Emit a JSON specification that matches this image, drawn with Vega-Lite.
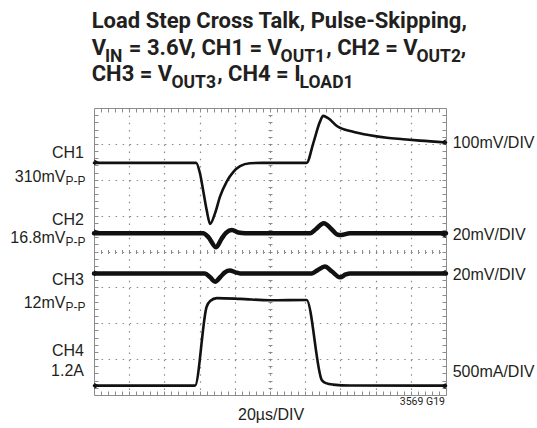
{
  "$schema": "https://vega.github.io/schema/vega-lite/v6.json",
  "width": 352,
  "height": 287,
  "autosize": {"type": "none"},
  "padding": {"left": 94, "top": 108, "right": 91, "bottom": 33},
  "background": "white",
  "datasets": {
    "traces": [
      {"ch": "CH1", "t": 0, "v": 6.47}, {"ch": "CH1", "t": 2.9, "v": 6.47}, {"ch": "CH1", "t": 3.01, "v": 6.18}, {"ch": "CH1", "t": 3.1, "v": 5.71}, {"ch": "CH1", "t": 3.2, "v": 5.16}, {"ch": "CH1", "t": 3.3, "v": 4.77}, {"ch": "CH1", "t": 3.44, "v": 5.07}, {"ch": "CH1", "t": 3.58, "v": 5.53}, {"ch": "CH1", "t": 3.77, "v": 5.95}, {"ch": "CH1", "t": 3.96, "v": 6.22}, {"ch": "CH1", "t": 4.15, "v": 6.38}, {"ch": "CH1", "t": 4.43, "v": 6.46}, {"ch": "CH1", "t": 4.8, "v": 6.47}, {"ch": "CH1", "t": 6.04, "v": 6.47}, {"ch": "CH1", "t": 6.23, "v": 7.02}, {"ch": "CH1", "t": 6.42, "v": 7.62}, {"ch": "CH1", "t": 6.51, "v": 7.78}, {"ch": "CH1", "t": 6.66, "v": 7.71}, {"ch": "CH1", "t": 6.9, "v": 7.5}, {"ch": "CH1", "t": 7.36, "v": 7.34}, {"ch": "CH1", "t": 7.84, "v": 7.24}, {"ch": "CH1", "t": 8.32, "v": 7.17}, {"ch": "CH1", "t": 8.78, "v": 7.13}, {"ch": "CH1", "t": 9.26, "v": 7.09}, {"ch": "CH1", "t": 10, "v": 7.04},
      {"ch": "CH2", "t": 0, "v": 4.51}, {"ch": "CH2", "t": 3.1, "v": 4.51}, {"ch": "CH2", "t": 3.25, "v": 4.4}, {"ch": "CH2", "t": 3.47, "v": 4.12}, {"ch": "CH2", "t": 3.62, "v": 4.35}, {"ch": "CH2", "t": 3.75, "v": 4.52}, {"ch": "CH2", "t": 3.92, "v": 4.6}, {"ch": "CH2", "t": 4.1, "v": 4.53}, {"ch": "CH2", "t": 4.3, "v": 4.51}, {"ch": "CH2", "t": 6.14, "v": 4.51}, {"ch": "CH2", "t": 6.3, "v": 4.62}, {"ch": "CH2", "t": 6.53, "v": 4.79}, {"ch": "CH2", "t": 6.75, "v": 4.62}, {"ch": "CH2", "t": 6.9, "v": 4.48}, {"ch": "CH2", "t": 7.02, "v": 4.46}, {"ch": "CH2", "t": 7.27, "v": 4.51}, {"ch": "CH2", "t": 10, "v": 4.51},
      {"ch": "CH3", "t": 0, "v": 3.39}, {"ch": "CH3", "t": 3.15, "v": 3.39}, {"ch": "CH3", "t": 3.3, "v": 3.28}, {"ch": "CH3", "t": 3.44, "v": 3.16}, {"ch": "CH3", "t": 3.6, "v": 3.3}, {"ch": "CH3", "t": 3.72, "v": 3.42}, {"ch": "CH3", "t": 3.86, "v": 3.47}, {"ch": "CH3", "t": 4.02, "v": 3.42}, {"ch": "CH3", "t": 4.15, "v": 3.39}, {"ch": "CH3", "t": 6.19, "v": 3.39}, {"ch": "CH3", "t": 6.35, "v": 3.48}, {"ch": "CH3", "t": 6.56, "v": 3.58}, {"ch": "CH3", "t": 6.75, "v": 3.45}, {"ch": "CH3", "t": 6.99, "v": 3.28}, {"ch": "CH3", "t": 7.15, "v": 3.36}, {"ch": "CH3", "t": 7.27, "v": 3.39}, {"ch": "CH3", "t": 10, "v": 3.39},
      {"ch": "CH4", "t": 0, "v": 0.26}, {"ch": "CH4", "t": 2.87, "v": 0.26}, {"ch": "CH4", "t": 3.2, "v": 2.46}, {"ch": "CH4", "t": 3.3, "v": 2.62}, {"ch": "CH4", "t": 3.49, "v": 2.7}, {"ch": "CH4", "t": 4.15, "v": 2.68}, {"ch": "CH4", "t": 5.0, "v": 2.64}, {"ch": "CH4", "t": 6.04, "v": 2.65}, {"ch": "CH4", "t": 6.47, "v": 0.42}, {"ch": "CH4", "t": 6.59, "v": 0.33}, {"ch": "CH4", "t": 6.79, "v": 0.29}, {"ch": "CH4", "t": 7.27, "v": 0.265}, {"ch": "CH4", "t": 10, "v": 0.26}
    ]
  },
  "resolve": {"axis": {"x": "independent", "y": "independent"}},
  "layer": [
    {
      "data": {"name": "traces"},
      "transform": [{"filter": {"field": "ch", "oneOf": ["CH1", "CH4"]}}],
      "mark": {"type": "line", "interpolate": "monotone", "strokeWidth": 2.6, "color": "#111111", "strokeCap": "round", "strokeJoin": "round"},
      "encoding": {
        "x": {"field": "t", "type": "quantitative", "scale": {"domain": [0, 10], "nice": false, "zero": false},
              "axis": {"orient": "bottom", "values": [1,2,3,4,5,6,7,8,9], "grid": true, "gridDash": [1.5, 5.68], "gridColor": "#8a8a8a", "gridWidth": 1.2, "ticks": false, "labels": false, "domain": false, "title": null}},
        "y": {"field": "v", "type": "quantitative", "scale": {"domain": [0, 8], "nice": false, "zero": false},
              "axis": {"orient": "left", "values": [1,2,3,4,5,6,7], "grid": true, "gridDash": [1.5, 5.54], "gridColor": "#8a8a8a", "gridWidth": 1.2, "ticks": false, "labels": false, "domain": false, "title": null}},
        "detail": {"field": "ch"}
      }
    },
    {
      "data": {"name": "traces"},
      "transform": [{"filter": {"field": "ch", "oneOf": ["CH2", "CH3"]}}],
      "mark": {"type": "line", "interpolate": "monotone", "strokeWidth": 4.5, "color": "#111111", "strokeCap": "round", "strokeJoin": "round"},
      "encoding": {
        "x": {"field": "t", "type": "quantitative", "axis": null},
        "y": {"field": "v", "type": "quantitative", "axis": null},
        "detail": {"field": "ch"}
      }
    },
    {
      "data": {"values": [{"ch": "CH1", "lvl": 6.485}, {"ch": "CH2", "lvl": 4.535}, {"ch": "CH3", "lvl": 3.392}, {"ch": "CH4", "lvl": 0.259}]},
      "mark": {"type": "point", "shape": "triangle-right", "filled": true, "size": 35, "color": "#111111", "opacity": 1},
      "encoding": {
        "x": {"datum": 0.08, "axis": {"orient": "bottom", "values": [0.2,0.4,0.6,0.8,1,1.2,1.4,1.6,1.8,2,2.2,2.4,2.6,2.8,3,3.2,3.4,3.6,3.8,4,4.2,4.4,4.6,4.8,5,5.2,5.4,5.6,5.8,6,6.2,6.4,6.6,6.8,7,7.2,7.4,7.6,7.8,8,8.2,8.4,8.6,8.8,9,9.2,9.4,9.6,9.8], "offset": -4, "tickSize": 4, "tickColor": "#8c8c8c", "labels": false, "domain": false, "grid": false, "title": null}},
        "y": {"field": "lvl", "type": "quantitative", "axis": {"orient": "left", "values": [0.2,0.4,0.6,0.8,1,1.2,1.4,1.6,1.8,2,2.2,2.4,2.6,2.8,3,3.2,3.4,3.6,3.8,4,4.2,4.4,4.6,4.8,5,5.2,5.4,5.6,5.8,6,6.2,6.4,6.6,6.8,7,7.2,7.4,7.6,7.8], "offset": -4, "tickSize": 4, "tickColor": "#8c8c8c", "labels": false, "domain": false, "grid": false, "title": null}}
      }
    },
    {
      "data": {"values": [{"ch": "CH1", "lvl": 7.044}, {"ch": "CH2", "lvl": 4.46}, {"ch": "CH3", "lvl": 3.408}, {"ch": "CH4", "lvl": 0.251}]},
      "mark": {"type": "point", "shape": "triangle-left", "filled": true, "size": 35, "color": "#111111", "opacity": 1},
      "encoding": {
        "x": {"datum": 9.92, "axis": {"orient": "top", "values": [0.2,0.4,0.6,0.8,1,1.2,1.4,1.6,1.8,2,2.2,2.4,2.6,2.8,3,3.2,3.4,3.6,3.8,4,4.2,4.4,4.6,4.8,5,5.2,5.4,5.6,5.8,6,6.2,6.4,6.6,6.8,7,7.2,7.4,7.6,7.8,8,8.2,8.4,8.6,8.8,9,9.2,9.4,9.6,9.8], "offset": -4, "tickSize": 4, "tickColor": "#8c8c8c", "labels": false, "domain": false, "grid": false, "title": null}},
        "y": {"field": "lvl", "type": "quantitative", "axis": {"orient": "right", "values": [0.2,0.4,0.6,0.8,1,1.2,1.4,1.6,1.8,2,2.2,2.4,2.6,2.8,3,3.2,3.4,3.6,3.8,4,4.2,4.4,4.6,4.8,5,5.2,5.4,5.6,5.8,6,6.2,6.4,6.6,6.8,7,7.2,7.4,7.6,7.8], "offset": -4, "tickSize": 4, "tickColor": "#8c8c8c", "labels": false, "domain": false, "grid": false, "title": null}}
      }
    },
    {
      "data": {"values": [{}]},
      "mark": {"type": "text", "style": "bot", "align": "center"},
      "encoding": {
        "x": {"datum": 5.03, "axis": {"orient": "bottom", "values": [0.2,0.4,0.6,0.8,1,1.2,1.4,1.6,1.8,2,2.2,2.4,2.6,2.8,3,3.2,3.4,3.6,3.8,4,4.2,4.4,4.6,4.8,5,5.2,5.4,5.6,5.8,6,6.2,6.4,6.6,6.8,7,7.2,7.4,7.6,7.8,8,8.2,8.4,8.6,8.8,9,9.2,9.4,9.6,9.8], "offset": -145.5, "tickSize": 4, "tickColor": "#8c8c8c", "labels": false, "domain": false, "grid": false, "title": null}},
        "y": {"datum": -0.683, "axis": {"orient": "left", "values": [0.2,0.4,0.6,0.8,1,1.2,1.4,1.6,1.8,2,2.2,2.4,2.6,2.8,3,3.2,3.4,3.6,3.8,4,4.2,4.4,4.6,4.8,5,5.2,5.4,5.6,5.8,6,6.2,6.4,6.6,6.8,7,7.2,7.4,7.6,7.8], "offset": -178, "tickSize": 4, "tickColor": "#8c8c8c", "labels": false, "domain": false, "grid": false, "title": null}},
        "text": {"value": "20µs/DIV"}
      }
    },
    {"data": {"values": [{}]}, "mark": {"type": "text", "style": "code", "align": "right"}, "encoding": {"x": {"datum": 9.97, "axis": null}, "y": {"datum": -0.279, "axis": null}, "text": {"value": "3569 G19"}}},

    {"data": {"values": [{}]}, "mark": {"type": "text", "style": "tt", "align": "left"}, "encoding": {"x": {"datum": -0.065, "axis": null}, "y": {"datum": 10.22, "axis": null}, "text": {"value": "Load Step Cross Talk, Pulse-Skipping,"}}},
    {"data": {"values": [{}]}, "mark": {"type": "text", "style": "tt", "align": "left"}, "encoding": {"x": {"datum": -0.065, "axis": null}, "y": {"datum": 9.477, "axis": null}, "text": {"value": "V"}}},
    {"data": {"values": [{}]}, "mark": {"type": "text", "style": "ts", "align": "left"}, "encoding": {"x": {"datum": 0.31, "axis": null}, "y": {"datum": 9.29, "axis": null}, "text": {"value": "IN"}}},
    {"data": {"values": [{}]}, "mark": {"type": "text", "style": "tt", "align": "left"}, "encoding": {"x": {"datum": 0.99, "axis": null}, "y": {"datum": 9.477, "axis": null}, "text": {"value": "= 3.6V, CH1 = V"}}},
    {"data": {"values": [{}]}, "mark": {"type": "text", "style": "ts", "align": "left"}, "encoding": {"x": {"datum": 5.3, "axis": null}, "y": {"datum": 9.29, "axis": null}, "text": {"value": "OUT1"}}},
    {"data": {"values": [{}]}, "mark": {"type": "text", "style": "tt", "align": "left"}, "encoding": {"x": {"datum": 6.6, "axis": null}, "y": {"datum": 9.477, "axis": null}, "text": {"value": ", CH2 = V"}}},
    {"data": {"values": [{}]}, "mark": {"type": "text", "style": "ts", "align": "left"}, "encoding": {"x": {"datum": 9.16, "axis": null}, "y": {"datum": 9.29, "axis": null}, "text": {"value": "OUT2"}}},
    {"data": {"values": [{}]}, "mark": {"type": "text", "style": "tt", "align": "left"}, "encoding": {"x": {"datum": 10.42, "axis": null}, "y": {"datum": 9.477, "axis": null}, "text": {"value": ","}}},
    {"data": {"values": [{}]}, "mark": {"type": "text", "style": "tt", "align": "left"}, "encoding": {"x": {"datum": -0.065, "axis": null}, "y": {"datum": 8.753, "axis": null}, "text": {"value": "CH3 = V"}}},
    {"data": {"values": [{}]}, "mark": {"type": "text", "style": "ts", "align": "left"}, "encoding": {"x": {"datum": 2.2, "axis": null}, "y": {"datum": 8.566, "axis": null}, "text": {"value": "OUT3"}}},
    {"data": {"values": [{}]}, "mark": {"type": "text", "style": "tt", "align": "left"}, "encoding": {"x": {"datum": 3.5, "axis": null}, "y": {"datum": 8.753, "axis": null}, "text": {"value": ", CH4 = I"}}},
    {"data": {"values": [{}]}, "mark": {"type": "text", "style": "ts", "align": "left"}, "encoding": {"x": {"datum": 5.84, "axis": null}, "y": {"datum": 8.566, "axis": null}, "text": {"value": "LOAD1"}}},

    {"data": {"values": [{}]}, "mark": {"type": "text", "style": "lb", "align": "right"}, "encoding": {"x": {"datum": -0.284, "axis": null}, "y": {"datum": 6.598, "axis": null}, "text": {"value": "CH1"}}},
    {"data": {"values": [{}]}, "mark": {"type": "text", "style": "lb", "align": "right"}, "encoding": {"x": {"datum": -0.81, "axis": null}, "y": {"datum": 5.946, "axis": null}, "text": {"value": "310mV"}}},
    {"data": {"values": [{}]}, "mark": {"type": "text", "style": "sb", "align": "left"}, "encoding": {"x": {"datum": -0.81, "axis": null}, "y": {"datum": 5.862, "axis": null}, "text": {"value": "P-P"}}},
    {"data": {"values": [{}]}, "mark": {"type": "text", "style": "lb", "align": "right"}, "encoding": {"x": {"datum": -0.284, "axis": null}, "y": {"datum": 4.739, "axis": null}, "text": {"value": "CH2"}}},
    {"data": {"values": [{}]}, "mark": {"type": "text", "style": "lb", "align": "right"}, "encoding": {"x": {"datum": -0.81, "axis": null}, "y": {"datum": 4.237, "axis": null}, "text": {"value": "16.8mV"}}},
    {"data": {"values": [{}]}, "mark": {"type": "text", "style": "sb", "align": "left"}, "encoding": {"x": {"datum": -0.81, "axis": null}, "y": {"datum": 4.153, "axis": null}, "text": {"value": "P-P"}}},
    {"data": {"values": [{}]}, "mark": {"type": "text", "style": "lb", "align": "right"}, "encoding": {"x": {"datum": -0.284, "axis": null}, "y": {"datum": 3.066, "axis": null}, "text": {"value": "CH3"}}},
    {"data": {"values": [{}]}, "mark": {"type": "text", "style": "lb", "align": "right"}, "encoding": {"x": {"datum": -0.81, "axis": null}, "y": {"datum": 2.425, "axis": null}, "text": {"value": "12mV"}}},
    {"data": {"values": [{}]}, "mark": {"type": "text", "style": "sb", "align": "left"}, "encoding": {"x": {"datum": -0.81, "axis": null}, "y": {"datum": 2.341, "axis": null}, "text": {"value": "P-P"}}},
    {"data": {"values": [{}]}, "mark": {"type": "text", "style": "lb", "align": "right"}, "encoding": {"x": {"datum": -0.284, "axis": null}, "y": {"datum": 1.087, "axis": null}, "text": {"value": "CH4"}}},
    {"data": {"values": [{}]}, "mark": {"type": "text", "style": "lb", "align": "right"}, "encoding": {"x": {"datum": -0.284, "axis": null}, "y": {"datum": 0.53, "axis": null}, "text": {"value": "1.2A"}}},

    {"data": {"values": [{}]}, "mark": {"type": "text", "style": "lb", "align": "left"}, "encoding": {"x": {"datum": 10.19, "axis": null}, "y": {"datum": 6.885, "axis": null}, "text": {"value": "100mV/DIV"}}},
    {"data": {"values": [{}]}, "mark": {"type": "text", "style": "lb", "align": "left"}, "encoding": {"x": {"datum": 10.19, "axis": null}, "y": {"datum": 4.321, "axis": null}, "text": {"value": "20mV/DIV"}}},
    {"data": {"values": [{}]}, "mark": {"type": "text", "style": "lb", "align": "left"}, "encoding": {"x": {"datum": 10.19, "axis": null}, "y": {"datum": 3.206, "axis": null}, "text": {"value": "20mV/DIV"}}},
    {"data": {"values": [{}]}, "mark": {"type": "text", "style": "lb", "align": "left"}, "encoding": {"x": {"datum": 10.19, "axis": null}, "y": {"datum": 0.502, "axis": null}, "text": {"value": "500mA/DIV"}}}
  ],
  "config": {
    "view": {"stroke": "#8c8c8c", "strokeWidth": 1},
    "text": {"baseline": "alphabetic"},
    "style": {
      "tt": {"font": "Roboto", "fontSize": 22, "fontWeight": "bold", "color": "#231f20"},
      "ts": {"font": "Roboto", "fontSize": 17.5, "fontWeight": "bold", "color": "#231f20"},
      "lb": {"font": "Liberation Sans, Arial, sans-serif", "fontSize": 16, "color": "#231f20"},
      "sb": {"font": "Liberation Sans, Arial, sans-serif", "fontSize": 12, "color": "#231f20"},
      "bot": {"font": "Liberation Sans, Arial, sans-serif", "fontSize": 16, "color": "#231f20"},
      "code": {"font": "Roboto", "fontSize": 10.5, "color": "#231f20"}
    }
  }
}
